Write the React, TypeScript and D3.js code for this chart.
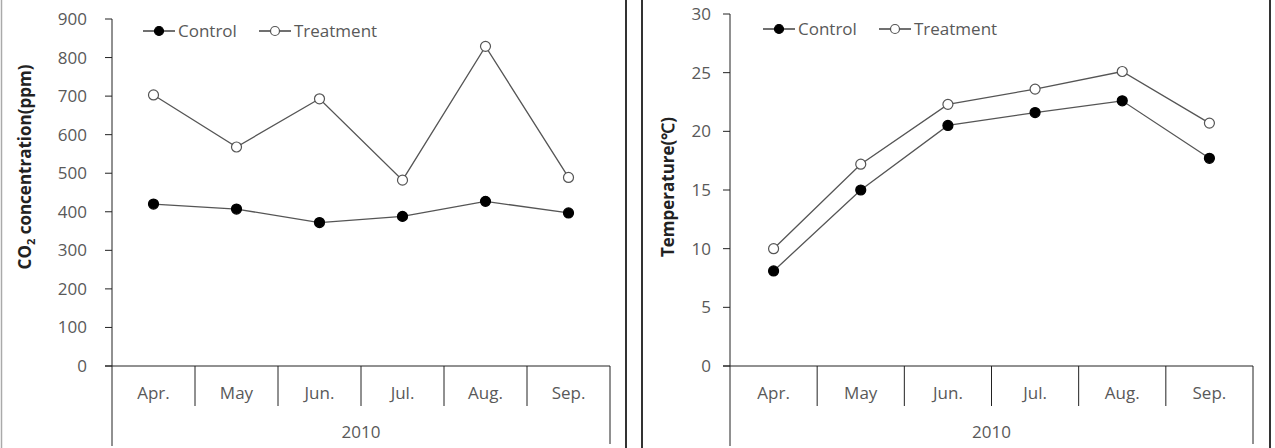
import { useRef, useEffect } from 'react';
import * as d3 from 'd3';

const months = ['Apr.', 'May', 'Jun.', 'Jul.', 'Aug.', 'Sep.'];
const yearLabel = '2010';
const seriesNames = ['Control', 'Treatment'];

const co2Control = [420, 407, 372, 388, 427, 397];
const co2Treatment = [703, 568, 693, 482, 829, 489];
const co2Ticks = [0, 100, 200, 300, 400, 500, 600, 700, 800, 900];

const tempControl = [8.1, 15.0, 20.5, 21.6, 22.6, 17.7];
const tempTreatment = [10.0, 17.2, 22.3, 23.6, 25.1, 20.7];
const tempTicks = [0, 5, 10, 15, 20, 25, 30];

interface PanelCfg {
  x0: number; x1: number; yTop: number; yBottom: number;
  max: number; ticks: number[]; control: number[]; treatment: number[];
  labelGap: number; titleX: number; titleY: number; title: string; sub?: string; titleRest?: string;
  legendX: number; legendY: number;
}

const FONT = '"Open Sans", sans-serif';
const TEXT = '#595959';
const LINE = '#555';

function drawPanel(svg: d3.Selection<SVGSVGElement, unknown, null, undefined>, c: PanelCfg) {
  const g = svg.append('g');
  const x = d3.scaleBand<string>().domain(months).range([c.x0, c.x1]).padding(0);
  const y = d3.scaleLinear().domain([0, c.max]).range([c.yBottom, c.yTop]);
  const cx = (m: string) => (x(m) as number) + x.bandwidth() / 2;

  // y axis
  g.append('line').attr('x1', c.x0).attr('x2', c.x0).attr('y1', c.yTop).attr('y2', 446)
    .attr('stroke', '#222').attr('stroke-width', 1);
  c.ticks.forEach(t => {
    g.append('line').attr('x1', c.x0 - 7).attr('x2', c.x0).attr('y1', y(t)).attr('y2', y(t))
      .attr('stroke', '#222');
    g.append('text').attr('x', c.x0 - c.labelGap).attr('y', y(t)).attr('dy', '0.35em')
      .attr('text-anchor', 'end').attr('font-family', FONT).attr('font-size', 17)
      .attr('fill', TEXT).text(t);
  });
  // category axis
  g.append('line').attr('x1', c.x0 - 7).attr('x2', c.x1).attr('y1', c.yBottom).attr('y2', c.yBottom)
    .attr('stroke', '#222');
  months.forEach((m, i) => {
    if (i > 0) {
      const bx = x(m) as number;
      g.append('line').attr('x1', bx).attr('x2', bx).attr('y1', c.yBottom).attr('y2', c.yBottom + 40)
        .attr('stroke', '#222');
    }
    g.append('text').attr('x', cx(m)).attr('y', c.yBottom + 33).attr('text-anchor', 'middle')
      .attr('font-family', FONT).attr('font-size', 17).attr('fill', TEXT).text(m);
  });
  g.append('line').attr('x1', c.x1).attr('x2', c.x1).attr('y1', c.yBottom).attr('y2', 444)
    .attr('stroke', '#222');
  g.append('text').attr('x', (c.x0 + c.x1) / 2).attr('y', 438).attr('text-anchor', 'middle')
    .attr('font-family', FONT).attr('font-size', 17).attr('fill', TEXT).text(yearLabel);

  // title
  const tt = g.append('text').attr('transform', `translate(${c.titleX},${c.titleY}) rotate(-90)`)
    .attr('text-anchor', 'middle').attr('dy', '0.35em').attr('font-family', FONT)
    .attr('font-size', 17).attr('font-weight', 'bold').attr('fill', '#222');
  if (c.sub) {
    tt.append('tspan').text('CO');
    tt.append('tspan').attr('font-size', 11).attr('dy', 4).text(c.sub);
    tt.append('tspan').attr('dy', -4).text(c.titleRest || '');
  } else {
    tt.text(c.title);
  }

  // series
  const line = d3.line<number>().x((_, i) => cx(months[i])).y(d => y(d));
  [c.treatment, c.control].forEach((vals, k) => {
    const filled = k === 1;
    g.append('path').datum(vals).attr('d', line).attr('fill', 'none')
      .attr('stroke', LINE).attr('stroke-width', 1.3);
    g.selectAll(null).data(vals).enter().append('circle')
      .attr('cx', (_, i) => cx(months[i])).attr('cy', d => y(d)).attr('r', 5)
      .attr('fill', filled ? '#000' : '#fff').attr('stroke', filled ? '#000' : '#555')
      .attr('stroke-width', 1.2);
  });

  // legend
  seriesNames.forEach((name, i) => {
    const lx = c.legendX + i * 116;
    g.append('line').attr('x1', lx).attr('x2', lx + 32).attr('y1', c.legendY).attr('y2', c.legendY)
      .attr('stroke', '#222').attr('stroke-width', 1.3);
    g.append('circle').attr('cx', lx + 16).attr('cy', c.legendY).attr('r', 4.5)
      .attr('fill', i === 0 ? '#000' : '#fff').attr('stroke', i === 0 ? '#000' : '#555').attr('stroke-width', 1.2);
    g.append('text').attr('x', lx + 35).attr('y', c.legendY).attr('dy', '0.35em')
      .attr('font-family', FONT).attr('font-size', 17).attr('fill', TEXT).text(name);
  });
}

const App = () => {
  const svgRef = useRef<SVGSVGElement>(null);

  useEffect(() => {
    const svg = d3.select(svgRef.current as SVGSVGElement);
    svg.selectAll('*').remove();
    svg.append('rect').attr('width', 1275).attr('height', 448).attr('fill', '#fff');

    // panel borders
    svg.append('line').attr('x1', 1.5).attr('x2', 1.5).attr('y1', 0).attr('y2', 448).attr('stroke', '#aaa').attr('stroke-width', 1.5);
    [626, 642, 1270].forEach(xv => {
      svg.append('line').attr('x1', xv).attr('x2', xv).attr('y1', 0).attr('y2', 448)
        .attr('stroke', '#333').attr('stroke-width', 2);
    });

    drawPanel(svg, {
      x0: 112, x1: 610, yTop: 19, yBottom: 366, max: 900, ticks: co2Ticks,
      control: co2Control, treatment: co2Treatment, labelGap: 25,
      titleX: 25, titleY: 167, title: 'CO2 concentration(ppm)', sub: '2', titleRest: ' concentration(ppm)',
      legendX: 143, legendY: 31,
    });
    drawPanel(svg, {
      x0: 730, x1: 1253, yTop: 14, yBottom: 366, max: 30, ticks: tempTicks,
      control: tempControl, treatment: tempTreatment, labelGap: 19,
      titleX: 668, titleY: 187, title: 'Temperature(℃)',
      legendX: 763, legendY: 29,
    });
  }, []);

  return (
    <svg ref={svgRef} width={1275} height={448}
      style={{ position: 'absolute', left: 0, top: 0, display: 'block' }} />
  );
};

export default App;
